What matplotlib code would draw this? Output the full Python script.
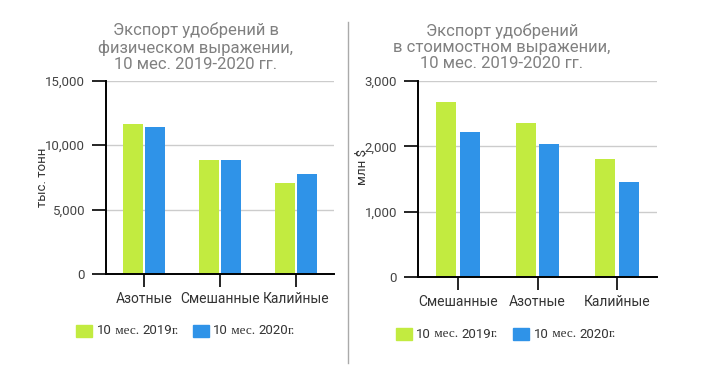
import matplotlib
matplotlib.use("Agg")
import matplotlib.pyplot as plt
from matplotlib.patches import Rectangle
from matplotlib.lines import Line2D
import numpy as np
import re

# ---- data ----
cats_left = ["Азотные", "Смешанные", "Калийные"]
left_2019 = [11650, 8850, 7050]
left_2020 = [11400, 8850, 7750]

cats_right = ["Смешанные", "Азотные", "Калийные"]
right_2019 = [2680, 2360, 1810]
right_2020 = [2220, 2040, 1455]

series_labels = ["10 мес. 2019г.", "10 мес. 2020г."]
title_left = "Экспорт удобрений в\nфизическом выражении,\n10 мес. 2019-2020 гг."
title_right = "Экспорт удобрений\nв стоимостном выражении,\n10 мес. 2019-2020 гг."
ylabel_left = "тыс. тонн"
ylabel_right = "млн $"
yticks_left = [0, 5000, 10000, 15000]
yticks_right = [0, 1000, 2000, 3000]

GREEN = "#C2EB40"
BLUE = "#2F93E8"
SANS = ["Roboto", "DejaVu Sans"]
SERIF = ["Liberation Serif", "DejaVu Serif"]

W, H = 718, 372
fig = plt.figure(figsize=(W / 100, H / 100), dpi=100)
fig.patch.set_facecolor("white")


def px_axes(x0, y0, x1, y1):
    return fig.add_axes([x0 / W, 1 - y1 / H, (x1 - x0) / W, (y1 - y0) / H])


def style(ax, cats, v19, v20, yticks, width, off, ylabel, ylx, yly):
    x = np.arange(len(cats))
    ax.bar(x - off, v19, width=width, color=GREEN, zorder=3)
    ax.bar(x + off, v20, width=width, color=BLUE, zorder=3)
    ax.set_xlim(-0.5, len(cats) - 0.5)
    ax.set_ylim(yticks[0], yticks[-1])
    ax.set_yticks(yticks)
    ax.set_yticklabels([f"{v:,}" for v in yticks], family=SANS, fontsize=9.5, color="#444444")
    ax.set_xticks(x)
    ax.set_xticklabels(cats, family=SANS, fontsize=10, color="#333333")
    ax.tick_params(axis="y", length=10, width=1.2, color="black", pad=5)
    ax.tick_params(axis="x", length=9, width=1.2, color="black", pad=4)
    for s in ["top", "right"]:
        ax.spines[s].set_visible(False)
    for s in ["left", "bottom"]:
        ax.spines[s].set_linewidth(1.4)
        ax.spines[s].set_color("black")
        ax.spines[s].set_zorder(5)
    ax.grid(axis="y", color="#CCCCCC", linewidth=1, zorder=0)
    ax.set_axisbelow(True)
    fig.text(ylx / W, 1 - yly / H, ylabel, rotation=90, ha="center", va="center",
             family=SANS, fontsize=9.5, color="#333333")


axL = px_axes(106, 80.5, 334, 274)
style(axL, cats_left, left_2019, left_2020, yticks_left, 0.263, 0.145, ylabel_left, 42, 177)
axR = px_axes(418, 81, 657, 277)
style(axR, cats_right, right_2019, right_2020, yticks_right, 0.25, 0.15, ylabel_right, 362, 167)

# titles
fig.text(196 / W, 1 - 47 / H, title_left, ha="center", va="center", family=SANS,
         fontsize=12, color="#808080", linespacing=1.1, multialignment="center")
fig.text(502 / W, 1 - 47 / H, title_right, ha="center", va="center", family=SANS,
         fontsize=12, color="#808080", linespacing=1.1, multialignment="center")

# separator
fig.add_artist(Line2D([347.7 / W, 347.7 / W], [1 - 22 / H, 1 - 363 / H], color="#AAAAAA", lw=1))

renderer = fig.canvas.get_renderer()


def rich_label(x_px, y_px, label):
    # digits in sans, Cyrillic in serif (font fallback look)
    parts = re.findall(r"[0-9]+|[^0-9]+", label)
    x = x_px
    for p in parts:
        fam = SANS if p.strip().isdigit() else SERIF
        t = fig.text(x / W, 1 - y_px / H, p, ha="left", va="center", family=fam,
                     fontsize=9.5, color="#333333")
        bb = t.get_window_extent(renderer=renderer)
        x += bb.width


def legend(items):
    for (sx, tx, y, color, label) in items:
        fig.add_artist(Rectangle((sx / W, 1 - (y + 6) / H), 16 / W, 12 / H, color=color,
                                 transform=fig.transFigure))
        rich_label(tx, y, label)


legend([
    (76, 97, 331, GREEN, series_labels[0]),
    (193, 213, 331, BLUE, series_labels[1]),
    (396, 416, 334, GREEN, series_labels[0]),
    (513, 534, 334, BLUE, series_labels[1]),
])

fig.savefig("out.png", dpi=100, facecolor="white")
